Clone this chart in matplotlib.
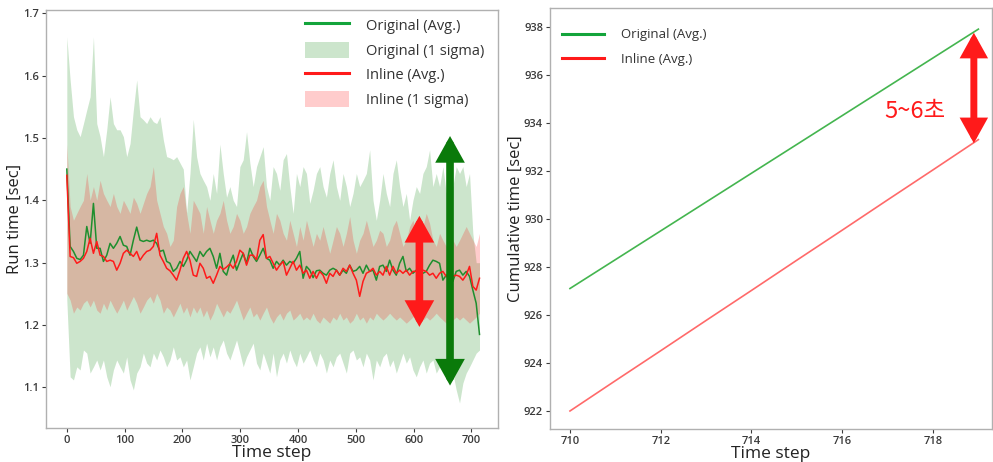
import numpy as np
import matplotlib
matplotlib.use("Agg")
import matplotlib.pyplot as plt
from matplotlib.lines import Line2D
from matplotlib.patches import Patch

plt.rcParams['font.family'] = ['Open Sans', 'Noto Sans CJK KR', 'DejaVu Sans']

# ---------------- Left panel data ----------------
steps = np.linspace(0, 714, 125)

orig_avg = [1.45, 1.326, 1.318, 1.307, 1.305, 1.312, 1.358, 1.331, 1.395, 1.323,
            1.323, 1.302, 1.312, 1.331, 1.323, 1.331, 1.342, 1.328, 1.326, 1.312,
            1.336, 1.357, 1.336, 1.334, 1.336, 1.334, 1.336, 1.331, 1.318, 1.320,
            1.302, 1.299, 1.286, 1.291, 1.302, 1.294, 1.304, 1.318, 1.310, 1.302,
            1.318, 1.310, 1.318, 1.323, 1.310, 1.291, 1.315, 1.286, 1.280, 1.299,
            1.312, 1.288, 1.302, 1.315, 1.299, 1.323, 1.310, 1.302, 1.312, 1.323,
            1.307, 1.304, 1.291, 1.302, 1.296, 1.304, 1.296, 1.302, 1.299, 1.307,
            1.318, 1.275, 1.294, 1.288, 1.276, 1.287, 1.288, 1.283, 1.280, 1.288,
            1.291, 1.288, 1.280, 1.288, 1.283, 1.296, 1.286, 1.288, 1.294, 1.283,
            1.296, 1.286, 1.288, 1.272, 1.294, 1.296, 1.286, 1.304, 1.288, 1.280,
            1.299, 1.310, 1.286, 1.291, 1.283, 1.288, 1.278, 1.283, 1.286, 1.296,
            1.304, 1.302, 1.299, 1.272, 1.280, 1.280, 1.270, 1.286, 1.288, 1.280,
            1.286, 1.278, 1.256, 1.235, 1.185]

orig_upper = [1.662, 1.593, 1.534, 1.513, 1.502, 1.523, 1.545, 1.566, 1.662, 1.523,
              1.502, 1.470, 1.513, 1.566, 1.523, 1.513, 1.513, 1.502, 1.470, 1.491,
              1.545, 1.593, 1.534, 1.529, 1.523, 1.534, 1.526, 1.523, 1.534, 1.497,
              1.470, 1.468, 1.465, 1.470, 1.460, 1.450, 1.380, 1.443, 1.530, 1.470,
              1.443, 1.432, 1.422, 1.400, 1.443, 1.411, 1.490, 1.443, 1.405, 1.422,
              1.400, 1.390, 1.454, 1.465, 1.510, 1.460, 1.422, 1.454, 1.470, 1.486,
              1.422, 1.400, 1.454, 1.443, 1.416, 1.465, 1.475, 1.422, 1.379, 1.443,
              1.422, 1.454, 1.443, 1.395, 1.416, 1.443, 1.454, 1.422, 1.405, 1.443,
              1.465, 1.422, 1.400, 1.443, 1.422, 1.390, 1.411, 1.443, 1.422, 1.432,
              1.443, 1.481, 1.400, 1.368, 1.400, 1.443, 1.411, 1.390, 1.443, 1.465,
              1.422, 1.390, 1.411, 1.368, 1.400, 1.422, 1.411, 1.443, 1.454, 1.481,
              1.422, 1.443, 1.422, 1.454, 1.411, 1.432, 1.422, 1.454, 1.443, 1.454,
              1.422, 1.443, 1.347, 1.300, 1.300]

orig_lower = [1.240, 1.117, 1.112, 1.133, 1.128, 1.160, 1.155, 1.123, 1.133, 1.144,
              1.128, 1.144, 1.117, 1.101, 1.128, 1.144, 1.133, 1.123, 1.149, 1.112,
              1.096, 1.123, 1.133, 1.155, 1.139, 1.133, 1.155, 1.144, 1.160, 1.149,
              1.133, 1.144, 1.165, 1.144, 1.149, 1.133, 1.144, 1.112, 1.133, 1.155,
              1.165, 1.144, 1.171, 1.149, 1.165, 1.144, 1.165, 1.176, 1.155, 1.144,
              1.160, 1.176, 1.155, 1.133, 1.149, 1.160, 1.171, 1.139, 1.128, 1.155,
              1.139, 1.123, 1.155, 1.117, 1.144, 1.155, 1.139, 1.160, 1.144, 1.133,
              1.155, 1.139, 1.149, 1.160, 1.144, 1.133, 1.155, 1.144, 1.123, 1.144,
              1.133, 1.149, 1.155, 1.139, 1.123, 1.155, 1.160, 1.144, 1.149, 1.133,
              1.155, 1.144, 1.112, 1.144, 1.133, 1.149, 1.155, 1.133, 1.144, 1.123,
              1.139, 1.155, 1.139, 1.149, 1.128, 1.117, 1.133, 1.144, 1.123, 1.139,
              1.144, 1.123, 1.133, 1.144, 1.117, 1.107, 1.123, 1.096, 1.075, 1.107,
              1.123, 1.133, 1.144, 1.155, 1.160]

inline_avg = [1.44, 1.310, 1.308, 1.299, 1.302, 1.307, 1.318, 1.339, 1.315, 1.334,
              1.312, 1.310, 1.302, 1.304, 1.302, 1.288, 1.299, 1.315, 1.320, 1.315,
              1.310, 1.318, 1.304, 1.312, 1.318, 1.320, 1.326, 1.347, 1.312, 1.302,
              1.291, 1.287, 1.280, 1.272, 1.288, 1.307, 1.318, 1.304, 1.280, 1.278,
              1.299, 1.291, 1.275, 1.278, 1.267, 1.280, 1.294, 1.289, 1.293, 1.298,
              1.291, 1.302, 1.320, 1.315, 1.296, 1.312, 1.312, 1.305, 1.336, 1.345,
              1.307, 1.310, 1.299, 1.288, 1.296, 1.302, 1.280, 1.291, 1.302, 1.288,
              1.296, 1.283, 1.288, 1.275, 1.286, 1.275, 1.286, 1.280, 1.267, 1.283,
              1.278, 1.288, 1.280, 1.291, 1.286, 1.296, 1.283, 1.272, 1.246, 1.270,
              1.283, 1.286, 1.291, 1.280, 1.286, 1.280, 1.294, 1.280, 1.294, 1.283,
              1.288, 1.283, 1.288, 1.280, 1.286, 1.286, 1.278, 1.288, 1.286, 1.280,
              1.283, 1.275, 1.283, 1.286, 1.278, 1.275, 1.278, 1.280, 1.278, 1.272,
              1.280, 1.294, 1.262, 1.256, 1.275]

inline_upper = [1.490, 1.390, 1.368, 1.379, 1.390, 1.400, 1.443, 1.400, 1.422, 1.400,
                1.432, 1.411, 1.400, 1.390, 1.411, 1.390, 1.379, 1.400, 1.390, 1.379,
                1.405, 1.395, 1.379, 1.395, 1.411, 1.422, 1.454, 1.400, 1.379, 1.358,
                1.347, 1.326, 1.336, 1.390, 1.411, 1.422, 1.379, 1.347, 1.400, 1.390,
                1.379, 1.347, 1.390, 1.368, 1.347, 1.368, 1.379, 1.400, 1.368, 1.347,
                1.358, 1.379, 1.368, 1.347, 1.358, 1.379, 1.390, 1.400, 1.422, 1.432,
                1.390, 1.368, 1.347, 1.379, 1.368, 1.347, 1.336, 1.368, 1.347, 1.326,
                1.358, 1.336, 1.368, 1.347, 1.326, 1.347, 1.336, 1.358, 1.336, 1.315,
                1.336, 1.358, 1.347, 1.326, 1.347, 1.374, 1.336, 1.315, 1.336, 1.347,
                1.368, 1.347, 1.326, 1.336, 1.352, 1.347, 1.326, 1.336, 1.358, 1.368,
                1.347, 1.326, 1.336, 1.358, 1.368, 1.347, 1.336, 1.358, 1.379, 1.363,
                1.336, 1.326, 1.347, 1.336, 1.326, 1.347, 1.336, 1.326, 1.336, 1.347,
                1.358, 1.347, 1.336, 1.326, 1.347]

inline_lower = [1.251, 1.240, 1.219, 1.229, 1.224, 1.235, 1.240, 1.229, 1.240, 1.224,
                1.219, 1.235, 1.224, 1.240, 1.229, 1.219, 1.229, 1.240, 1.224, 1.235,
                1.246, 1.235, 1.219, 1.229, 1.240, 1.246, 1.235, 1.251, 1.240, 1.219,
                1.229, 1.224, 1.213, 1.224, 1.235, 1.219, 1.229, 1.213, 1.229, 1.219,
                1.229, 1.213, 1.224, 1.208, 1.219, 1.235, 1.224, 1.213, 1.224, 1.219,
                1.229, 1.240, 1.224, 1.208, 1.219, 1.229, 1.213, 1.219, 1.208, 1.219,
                1.229, 1.213, 1.203, 1.213, 1.219, 1.208, 1.219, 1.224, 1.208, 1.213,
                1.219, 1.208, 1.213, 1.208, 1.219, 1.208, 1.203, 1.213, 1.208, 1.203,
                1.213, 1.208, 1.219, 1.208, 1.213, 1.203, 1.208, 1.219, 1.208, 1.213,
                1.203, 1.213, 1.208, 1.219, 1.213, 1.208, 1.213, 1.219, 1.213, 1.208,
                1.213, 1.208, 1.203, 1.208, 1.213, 1.219, 1.213, 1.208, 1.213, 1.208,
                1.213, 1.219, 1.213, 1.208, 1.203, 1.213, 1.208, 1.213, 1.208, 1.213,
                1.208, 1.203, 1.208, 1.213, 1.219]

left_xticks = [0, 100, 200, 300, 400, 500, 600, 700]
left_yticks = [1.1, 1.2, 1.3, 1.4, 1.5, 1.6, 1.7]

# ---------------- Right panel data ----------------
steps_r = [710, 711, 712, 713, 714, 715, 716, 717, 718, 719]
cum_orig = [927.1, 928.3, 929.5, 930.7, 931.9, 933.1, 934.3, 935.5, 936.7, 937.9]
cum_inline = [922.0, 923.26, 924.51, 925.77, 927.02, 928.28, 929.53, 930.79, 932.04, 933.3]
right_xticks = [710, 712, 714, 716, 718]
right_yticks = [922, 924, 926, 928, 930, 932, 934, 936, 938]

GREEN = '#13a43b'
RED = '#ff1a1a'
TICKC = '#3a3a3a'
SPINEC = '#b0b0b0'

fig = plt.figure(figsize=(9.93, 4.62), dpi=100)
ax1 = fig.add_axes([46/993, 34/462, 452/993, 418/462])
ax2 = fig.add_axes([550/993, 33/462, 442/993, 421/462])

# ---- left
ax1.fill_between(steps, orig_lower, orig_upper, color='green', alpha=0.2, lw=0)
ax1.fill_between(steps, inline_lower, inline_upper, color='red', alpha=0.2, lw=0)
ax1.plot(steps, orig_avg, color='#1e8f2e', lw=1.1)
ax1.plot(steps, inline_avg, color=RED, lw=1.1)

def dbl_arrow(ax, x, y0, y1, color, lw=5.5, hw=0.5, hl=0.9):
    ax.annotate('', xy=(x, y1), xytext=(x, y0),
                arrowprops=dict(arrowstyle=f'<|-|>,head_width={hw},head_length={hl}',
                                lw=lw, color=color, shrinkA=0, shrinkB=0,
                                mutation_scale=12, joinstyle='miter'))

dbl_arrow(ax1, 610, 1.197, 1.375, RED)
dbl_arrow(ax1, 663, 1.103, 1.503, '#0a7a0a')

ax1.set_xlim(-36, 746)
ax1.set_ylim(1.035, 1.705)
ax1.set_xticks(left_xticks)
ax1.set_yticks(left_yticks)
ax1.set_yticklabels([f'{v:.1f}' for v in left_yticks])
ax1.set_xlabel('Time step', fontsize=12.5, color='#222222', labelpad=-1)
ax1.set_ylabel('Run time [sec]', fontsize=12, color='#222222')
ax1.yaxis.set_label_coords(-0.052, 0.5)

handles1 = [Line2D([], [], color=GREEN, lw=2.2),
            Patch(facecolor='green', alpha=0.2, lw=0),
            Line2D([], [], color=RED, lw=2.2),
            Patch(facecolor='red', alpha=0.2, lw=0)]
labels1 = ['Original (Avg.)', 'Original (1 sigma)', 'Inline (Avg.)', 'Inline (1 sigma)']
ax1.legend(handles1, labels1, loc='upper right', frameon=False, fontsize=10.5,
           handlelength=3.0, handleheight=1.3, labelspacing=0.55, handletextpad=1.2,
           bbox_to_anchor=(1.0, 1.015), labelcolor='#333333')

# ---- right
ax2.plot(steps_r, cum_orig, color='#44b54f', lw=1.2)
ax2.plot(steps_r, cum_inline, color='#ff6a6a', lw=1.2)
ax2.annotate('', xy=(718.9, 937.75), xytext=(718.9, 933.15),
             arrowprops=dict(arrowstyle='<|-|>,head_width=0.5,head_length=0.9',
                             lw=5, color=RED, shrinkA=0, shrinkB=0, mutation_scale=12,
                             joinstyle='miter'))
ax2.text(717.6, 934.45, '5~6초', color=RED, fontsize=17, ha='center', va='center',
         family=['Noto Sans CJK KR', 'DejaVu Sans'])
ax2.set_xlim(709.56, 719.3)
ax2.set_ylim(921.25, 938.78)
ax2.set_xticks(right_xticks)
ax2.set_yticks(right_yticks)
ax2.set_xlabel('Time step', fontsize=12.5, color='#222222', labelpad=-1)
ax2.set_ylabel('Cumulative time [sec]', fontsize=12, color='#222222')
ax2.yaxis.set_label_coords(-0.06, 0.5)
handles2 = [Line2D([], [], color=GREEN, lw=2.2), Line2D([], [], color=RED, lw=2.2)]
ax2.legend(handles2, ['Original (Avg.)', 'Inline (Avg.)'], loc='upper left',
           frameon=False, fontsize=9.5, handlelength=3.2, labelspacing=0.85,
           handletextpad=1.3, bbox_to_anchor=(0.0, 0.98), labelcolor='#333333')

for ax in (ax1, ax2):
    for s in ax.spines.values():
        s.set_color(SPINEC)
        s.set_linewidth(1.0)
    ax.tick_params(labelsize=8, colors=TICKC, length=3, width=0.8, pad=2)
    for lab in ax.get_xticklabels() + ax.get_yticklabels():
        lab.set_fontweight('semibold')

fig.savefig('out.png', dpi=100)
